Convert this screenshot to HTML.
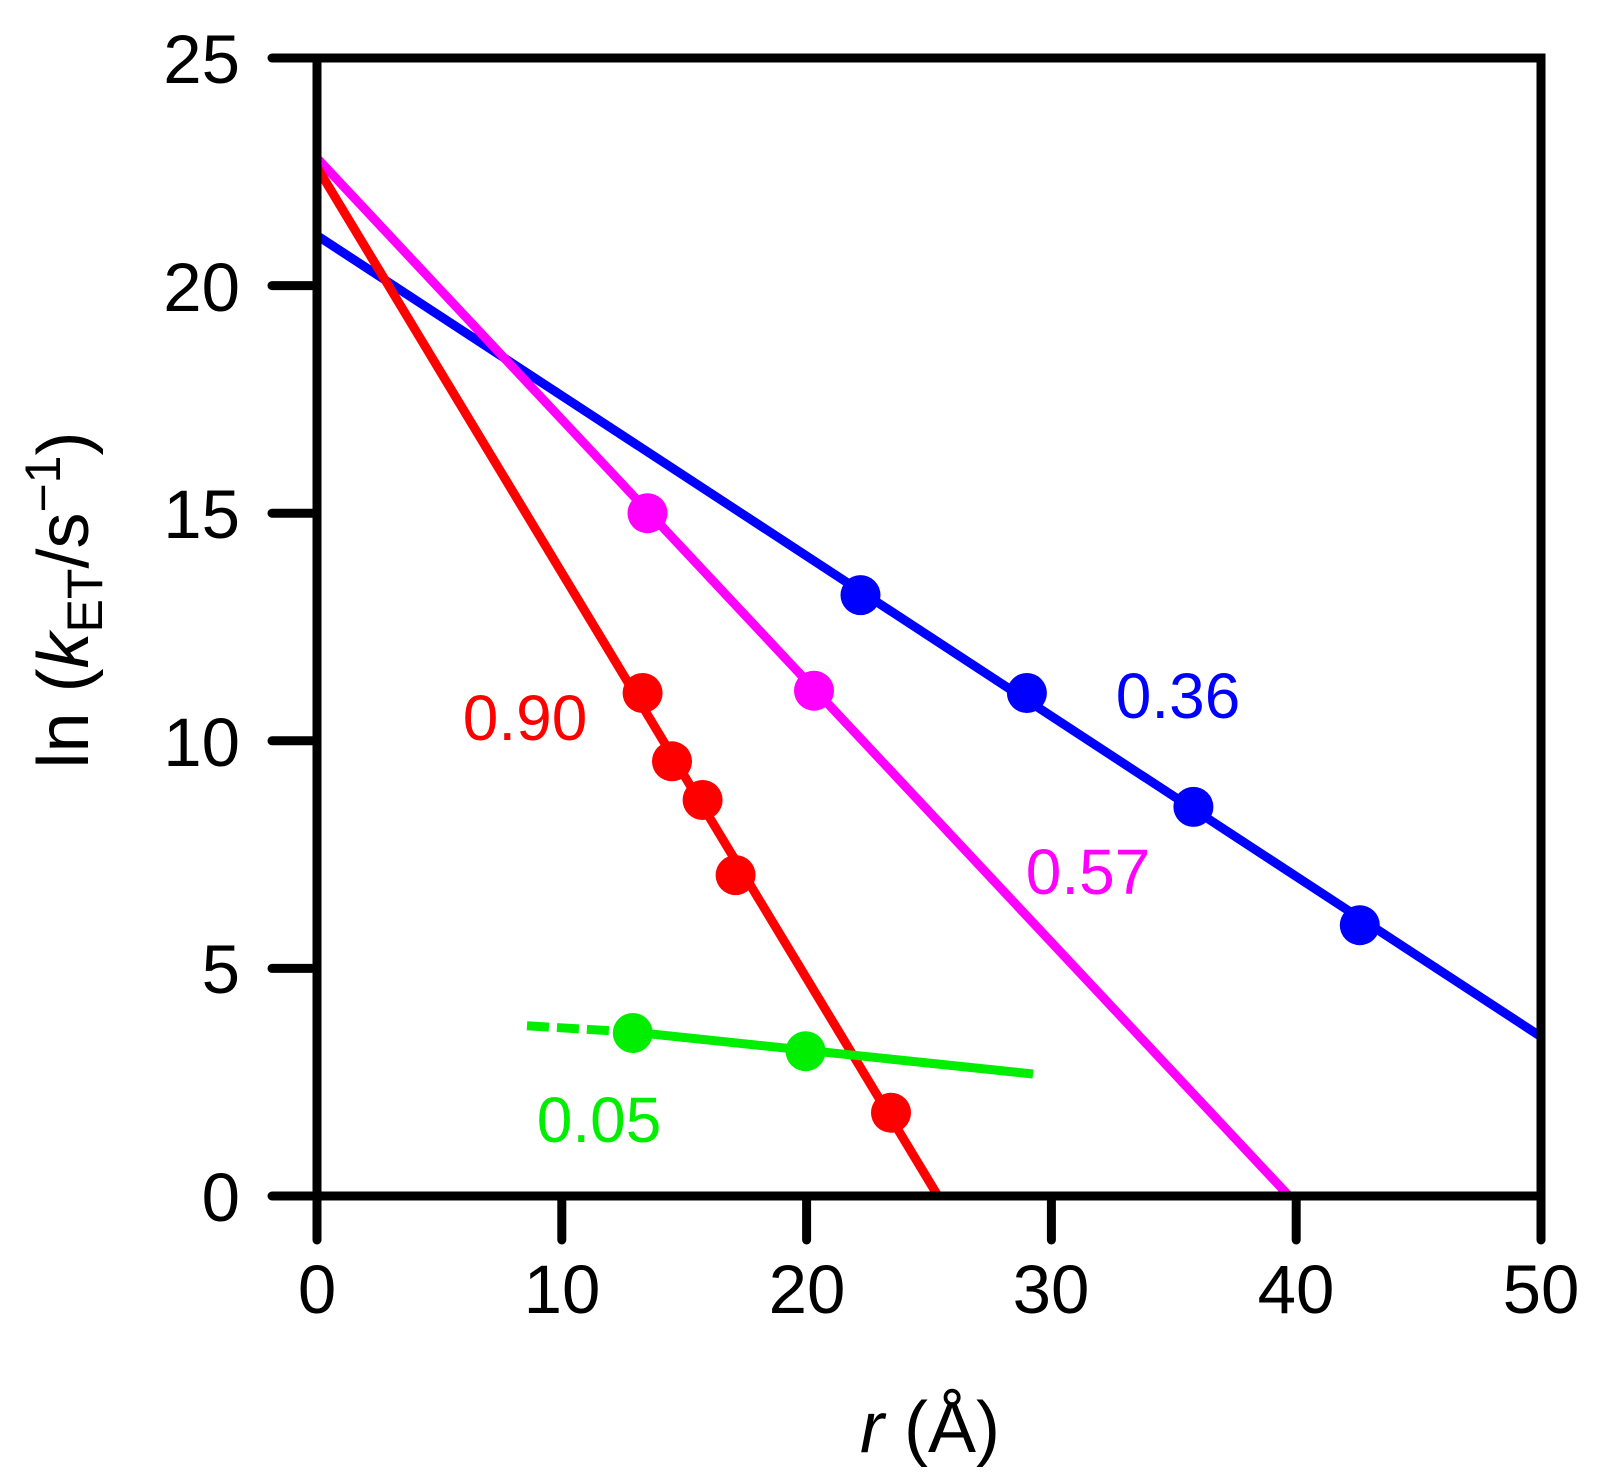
<!DOCTYPE html>
<html><head><meta charset="utf-8"><style>body{margin:0;background:#fff}svg{display:block}</style></head><body>
<svg width="1612" height="1481" viewBox="0 0 1612 1481" xmlns="http://www.w3.org/2000/svg" font-family="Liberation Sans, Arial, sans-serif">
<g stroke-width="9" fill="none" stroke-linecap="butt">
<line x1="317" y1="235.5" x2="1541" y2="1036.7" stroke="#0000ff"/>
<line x1="317" y1="158.1" x2="1289" y2="1196" stroke="#ff00ff"/>
<line x1="317" y1="167.2" x2="938" y2="1196" stroke="#ff0000"/>
<line x1="527" y1="1025.8" x2="632" y2="1032" stroke="#00ee00" stroke-dasharray="22,8"/>
<line x1="632" y1="1032" x2="1033" y2="1074" stroke="#00ee00"/>
</g>
<g fill="#0000ff"><circle cx="860.5" cy="595.1" r="20"/><circle cx="1026.9" cy="693" r="20"/><circle cx="1193.4" cy="806.9" r="20"/><circle cx="1359.8" cy="925.2" r="20"/></g>
<g fill="#ff00ff"><circle cx="647.5" cy="513.2" r="20"/><circle cx="814" cy="690.7" r="20"/></g>
<g fill="#ff0000"><circle cx="642.6" cy="693" r="20"/><circle cx="672" cy="761.3" r="20"/><circle cx="702.6" cy="800" r="20"/><circle cx="735.6" cy="875.1" r="20"/><circle cx="891" cy="1112.7" r="20"/></g>
<g fill="#00ee00"><circle cx="632.8" cy="1033" r="20"/><circle cx="805.6" cy="1051.2" r="20"/></g>
<g stroke="#000" stroke-width="9" stroke-linecap="round" fill="none">
<rect x="317" y="58" width="1224" height="1138" stroke-linecap="butt"/>
<line x1="272" y1="58" x2="317" y2="58"/><line x1="272" y1="285.6" x2="317" y2="285.6"/><line x1="272" y1="513.2" x2="317" y2="513.2"/><line x1="272" y1="740.8" x2="317" y2="740.8"/><line x1="272" y1="968.4" x2="317" y2="968.4"/><line x1="272" y1="1196" x2="317" y2="1196"/>
<line x1="317" y1="1196" x2="317" y2="1240"/><line x1="561.8" y1="1196" x2="561.8" y2="1240"/><line x1="806.6" y1="1196" x2="806.6" y2="1240"/><line x1="1051.4" y1="1196" x2="1051.4" y2="1240"/><line x1="1296.2" y1="1196" x2="1296.2" y2="1240"/><line x1="1541" y1="1196" x2="1541" y2="1240"/>
</g>
<g font-size="69" fill="#000" text-anchor="end">
<text x="240" y="83">25</text><text x="240" y="311">20</text><text x="240" y="538">15</text><text x="240" y="766">10</text><text x="240" y="993">5</text><text x="240" y="1221">0</text>
</g>
<g font-size="69" fill="#000" text-anchor="middle">
<text x="317" y="1313">0</text><text x="562" y="1313">10</text><text x="807" y="1313">20</text><text x="1051" y="1313">30</text><text x="1296" y="1313">40</text><text x="1541" y="1313">50</text>
</g>
<text x="930" y="1452" font-size="72" text-anchor="middle"><tspan font-style="italic">r</tspan> (Å)</text>
<text transform="translate(88,600) rotate(-90)" font-size="72" text-anchor="middle">ln (<tspan font-style="italic">k</tspan><tspan font-size="50" dy="14">ET</tspan><tspan dy="-14">/s</tspan><tspan font-size="50" dy="-28">−1</tspan><tspan dy="28">)</tspan></text>
<g font-size="64" text-anchor="middle">
<text x="525" y="740" fill="#ff0000">0.90</text>
<text x="1178" y="718" fill="#0000ff">0.36</text>
<text x="1088" y="894" fill="#ff00ff">0.57</text>
<text x="599" y="1142" fill="#00ee00">0.05</text>
</g>
</svg>
</body></html>
